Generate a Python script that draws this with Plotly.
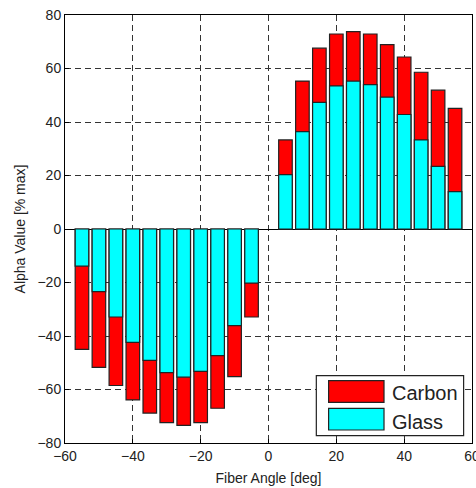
import plotly.graph_objects as go

angles = [-55, -50, -45, -40, -35, -30, -25, -20, -15, -10, -5,
          5, 10, 15, 20, 25, 30, 35, 40, 45, 50, 55]
carbon = [-45.0, -51.7, -58.5, -63.9, -68.8, -72.4, -73.4, -72.4, -67.0, -55.2, -32.9,
          33.3, 55.3, 67.6, 72.9, 73.8, 72.9, 68.9, 64.3, 58.6, 51.9, 45.1]
glass = [-13.9, -23.4, -32.9, -42.4, -49.1, -53.7, -55.4, -53.2, -47.3, -36.1, -20.2,
         20.3, 36.4, 47.3, 53.5, 55.3, 54.0, 49.3, 42.8, 33.3, 23.4, 14.0]
series_names = ["Carbon", "Glass"]
series_colors = ["#ff0000", "#00ffff"]
x_ticks = [-60, -40, -20, 0, 20, 40, 60]
y_ticks = [-80, -60, -40, -20, 0, 20, 40, 60, 80]

FONT = "Liberation Sans, Arial, sans-serif"

fig = go.Figure()
for name, vals, col in zip(series_names, [carbon, glass], series_colors):
    fig.add_trace(go.Bar(
        x=angles, y=vals, name=name, width=4,
        marker=dict(color=col, line=dict(color="#222222", width=1.2)),
        showlegend=False,
    ))

axis_common = dict(
    showline=True, mirror=True, linecolor="black", linewidth=1,
    showgrid=True, gridcolor="#333333", gridwidth=1, griddash="6px,4px",
    ticks="inside", ticklen=4, tickcolor="black",
    tickfont=dict(family=FONT, size=14, color="#222222"),
    ticklabeloverflow="allow", automargin=False,
)

fig.update_layout(
    width=476, height=488,
    margin=dict(l=65, r=4, t=15, b=45, autoexpand=False),
    paper_bgcolor="white", plot_bgcolor="white",
    barmode="overlay",
    font=dict(family=FONT, size=14, color="#222222"),
    xaxis=dict(range=[-60, 60], tickvals=x_ticks, zeroline=False,
               title=dict(text="Fiber Angle [deg]", standoff=10,
                          font=dict(family=FONT, size=14)),
               **axis_common),
    yaxis=dict(range=[-80, 80], tickvals=y_ticks, zeroline=True,
               zerolinecolor="black", zerolinewidth=1.2,
               title=dict(text="Alpha Value [% max]", standoff=8,
                          font=dict(family=FONT, size=14)),
               **axis_common),
)

# custom legend (large swatches like the reference)
shapes = [
    dict(type="rect", xref="paper", yref="paper", x0=0.6175, x1=0.9794, y0=0.0171, y1=0.1572,
         fillcolor="white", line=dict(color="#222222", width=1.2)),
    dict(type="rect", xref="paper", yref="paper", x0=0.6477, x1=0.7838, y0=0.0951, y1=0.1456,
         fillcolor=series_colors[0], line=dict(color="#222222", width=1.2)),
    dict(type="rect", xref="paper", yref="paper", x0=0.6477, x1=0.7838, y0=0.0304, y1=0.0811,
         fillcolor=series_colors[1], line=dict(color="#222222", width=1.2)),
]
for s in shapes:
    fig.add_shape(**s)
for name, yc in zip(series_names, [0.1161, 0.0498]):
    fig.add_annotation(xref="paper", yref="paper", x=0.7975, y=yc, text=name,
                       showarrow=False, xanchor="left", yanchor="middle",
                       font=dict(family=FONT, size=20, color="#222222"))

fig.write_html("out.html")
